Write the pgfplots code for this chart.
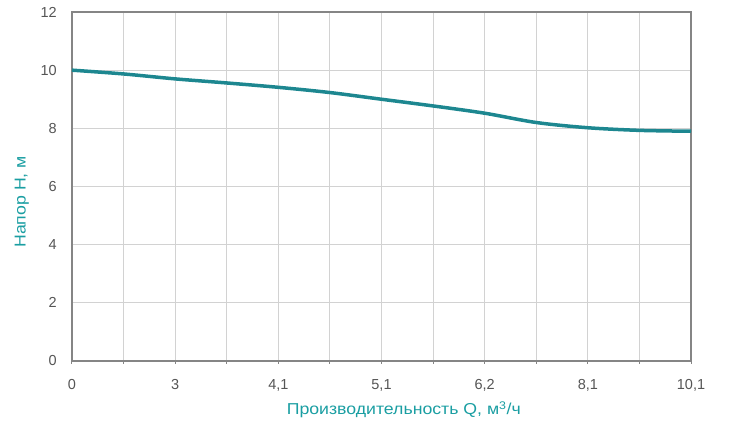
\documentclass[border=0pt]{standalone}
\usepackage{pgfplots}
\pgfplotsset{compat=1.18}
\usepackage{fontspec}
\setmainfont{Liberation Sans}
\newfontfamily\labfont{Liberation Sans}[FakeStretch=1.12]
\definecolor{linecol}{HTML}{1D8790}
\definecolor{labcol}{HTML}{1A9EA2}
\definecolor{tickcol}{HTML}{555555}
\definecolor{gridcol}{HTML}{D2D2D2}
\definecolor{axcol}{HTML}{858585}
\begin{document}
\begin{tikzpicture}
\begin{axis}[
  scale only axis,
  width=619pt, height=349pt,
  xmin=0, xmax=12, ymin=0, ymax=12,
  xtick={0,1,...,12},
  xticklabels={0,{},3,{},{4,1},{},{5,1},{},{6,2},{},{8,1},{},{10,1}},
  ytick={0,2,...,12},
  yticklabels={0,2,4,6,8,10,12},
  grid=major,
  major grid style={gridcol, line width=1pt},
  axis line style={axcol, line width=1.5pt},
  xtick style={axcol, line width=1pt},
  ytick style={draw=none},
  major tick length=3pt,
  xtick pos=bottom, ytick pos=left,
  tick align=outside,
  ticklabel style={font=\fontsize{14.5}{16}\selectfont, text=tickcol},
  xticklabel style={anchor=base, inner sep=0pt, yshift=-25.5pt},
  yticklabel style={anchor=east, inner sep=0pt, xshift=-12pt},
  xlabel={Производительность Q, м\textsuperscript{3}/ч},
  ylabel={Напор Н, м},
  xlabel style={at={(axis description cs:0.536,0)}, anchor=center, yshift=-49pt, font=\labfont\fontsize{15.8}{18}\selectfont, text=labcol},
  ylabel style={at={(axis description cs:-0.081,0.456)}, anchor=center, font=\labfont\fontsize{15.8}{18}\selectfont, text=labcol},
  clip=false,
]
\addplot[linecol, line width=3.5pt, smooth, tension=0.5] coordinates {
 (0,10.0) (1,9.87) (2,9.70) (3,9.56) (4,9.41) (5,9.23) (6,9.0) (7,8.77) (8,8.52) (9,8.20) (10,8.02) (11,7.93) (12,7.90)
};
\end{axis}
\pgfresetboundingbox
\path (current axis.south west) ++(-72pt,-77pt) rectangle ([shift={(42pt,12pt)}]current axis.north east);
\end{tikzpicture}
\end{document}
